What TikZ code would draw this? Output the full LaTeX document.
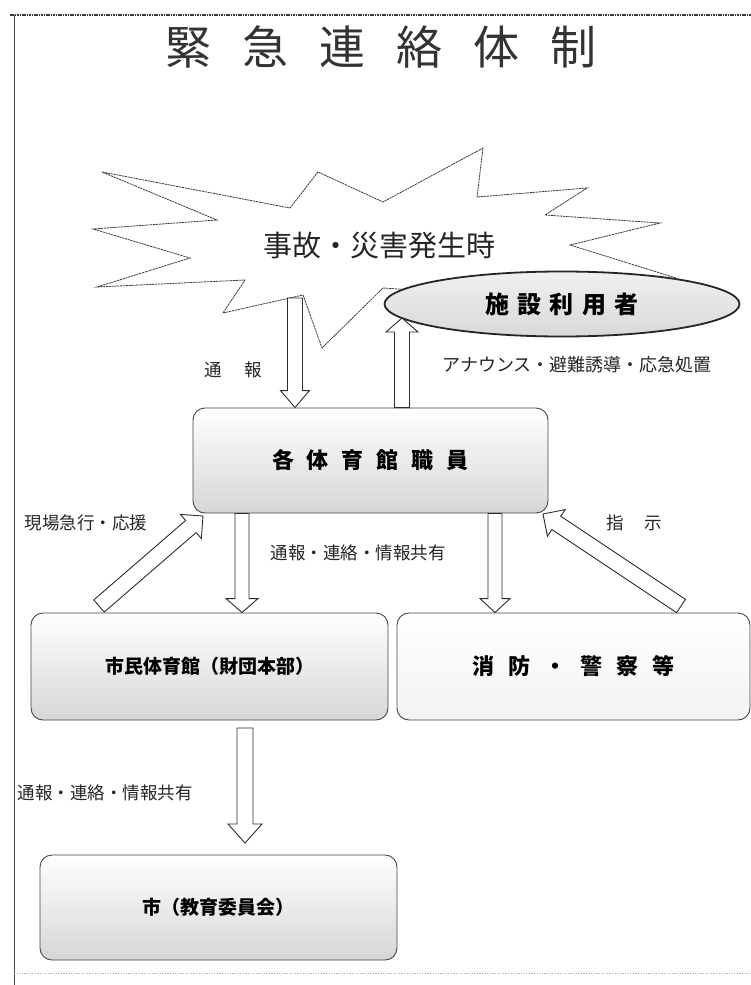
\documentclass[tikz,border=0pt]{standalone}
\usepackage{fontspec}
\newfontfamily\jp{Noto Sans CJK JP}
\usetikzlibrary{shapes.geometric,calc}

\tikzset{
  box/.style={draw=gray!55!black, line width=0.9pt, rounded corners=12pt,
    top color=white, bottom color=gray!32, inner sep=0pt,
    font=\jp\bfseries\fontsize{20}{24}\selectfont},
  lightbox/.style={box, bottom color=gray!10},
  blockarrow/.style={draw=gray!35!black, line width=0.9pt, fill=white, line join=miter},
  lbl/.style={inner sep=0pt, text=black!85, font=\jp\fontsize{17.5}{20}\selectfont},
  burst/.style={draw=gray!45!black, line width=0.8pt, fill=white,
    dash pattern=on 2.2pt off 0.7pt, line join=miter},
}

% block arrow: #1 from, #2 to, #3 shaft half width, #4 head half width, #5 head length
\newcommand\barrow[5]{%
  \pgfpointdiff{\pgfpointanchor{#1}{center}}{\pgfpointanchor{#2}{center}}%
  \pgfgetlastxy{\bdx}{\bdy}%
  \pgfmathsetmacro\bang{atan2(\bdy,\bdx)}%
  \pgfmathsetmacro\blen{veclen(\bdx,\bdy)}%
  \pgfmathsetmacro\bneck{\blen-#5}%
  \begin{scope}[shift={(#1)}, rotate=\bang]
    \draw[blockarrow] (0pt,-#3pt) -- (\bneck pt,-#3pt) -- (\bneck pt,-#4pt)
      -- (\blen pt,0pt) -- (\bneck pt,#4pt) -- (\bneck pt,#3pt) -- (0pt,#3pt) -- cycle;
  \end{scope}}

\begin{document}
\begin{tikzpicture}[x=1pt, y=-1pt]
\useasboundingbox (0,0) rectangle (751,985);
\fill[white] (0,0) rectangle (751,985);

% frame
\draw[gray!45!black, line width=1.3pt, dash pattern=on 1.6pt off 0.8pt] (10,15) -- (751,15);
\draw[gray!55!black, line width=0.9pt] (14,15) -- (14,985);
\draw[gray!60, line width=0.8pt, dash pattern=on 1.2pt off 1.4pt] (14,973) -- (751,973);

% title
\node[inner sep=0pt, text=black!80, font=\jp\fontsize{46}{50}\selectfont] (title) at (381,47)
  {緊\hspace{31pt}急\hspace{31pt}連\hspace{31pt}絡\hspace{31pt}体\hspace{31pt}制};

% starburst
\draw[burst] (102,172) -- (290,208) -- (318,172) -- (383,202) -- (483,148) -- (477,197)
  -- (587,188) -- (545,215) -- (660,223) -- (570,245) -- (676,278) -- (560,300)
  -- (383,288) -- (322,348) -- (303,295) -- (223,313) -- (245,280) -- (97,287)
  -- (190,258) -- (93,229) -- (217,220) -- cycle;
\node[inner sep=0pt, text=black!85, font=\jp\fontsize{29}{32}\selectfont] (incident) at (379,246)
  {事故・災害発生時};

% users ellipse
\node[ellipse, draw=black!85, line width=1.8pt, top color=gray!12, bottom color=gray!30,
  minimum width=355pt, minimum height=65pt, inner sep=0pt,
  font=\jp\bfseries\fontsize{24}{28}\selectfont] (users) at (562,304)
  {施\hspace{8.5pt}設\hspace{8.5pt}利\hspace{8.5pt}用\hspace{8.5pt}者};

% boxes
\node[box, minimum width=355pt, minimum height=105pt, font=\jp\bfseries\fontsize{22}{26}\selectfont]
  (staff) at (370.5,460.5)
  {各\hspace{13pt}体\hspace{13pt}育\hspace{13pt}館\hspace{13pt}職\hspace{13pt}員};
\node[box, minimum width=357pt, minimum height=107pt, font=\jp\bfseries\fontsize{19}{23}\selectfont]
  (civic) at (209.5,666.5) {市民体育館（財団本部）};
\node[lightbox, minimum width=353pt, minimum height=107pt, font=\jp\bfseries\fontsize{22}{26}\selectfont]
  (fire) at (573.5,666.5)
  {消\hspace{14pt}防\hspace{14pt}・\hspace{14pt}警\hspace{14pt}察\hspace{14pt}等};
\node[box, minimum width=357pt, minimum height=105pt, font=\jp\bfseries\fontsize{19}{23}\selectfont]
  (city) at (218.5,907.5) {市（教育委員会）};

% labels
\node[lbl] (l1) at (233,370) {通\hspace{22pt}報};
\node[lbl, font=\jp\fontsize{18}{20}\selectfont] (l2) at (577,365) {アナウンス・避難誘導・応急処置};
\node[lbl] (l3) at (86,523) {現場急行・応援};
\node[lbl] (l4) at (634,523) {指\hspace{21pt}示};
\node[lbl] (l5) at (358,553) {通報・連絡・情報共有};
\node[lbl] (l6) at (105,793) {通報・連絡・情報共有};

% arrow end points
\coordinate (a1) at (295,298);
\coordinate (a2) at (295,0 |- staff.north);
\coordinate (b1) at (402,0 |- staff.north);
\coordinate (b2) at (402,318);
\coordinate (c1) at (242,0 |- staff.south);
\coordinate (c2) at (242,0 |- civic.north);
\coordinate (d1) at (495,0 |- staff.south);
\coordinate (d2) at (495,0 |- fire.north);
\coordinate (e1) at (99,606);
\coordinate (e2) at (203,516);
\coordinate (f1) at (681,606);
\coordinate (f2) at (543,514);
\coordinate (g1) at (245,728);
\coordinate (g2) at (245,843);

\barrow{a1}{a2}{7.5}{14.5}{17}
\barrow{b1}{b2}{7.5}{16}{14}
\barrow{c1}{c2}{7}{16}{14}
\barrow{d1}{d2}{7}{15}{14}
\barrow{e1}{e2}{8}{16}{16}
\barrow{f1}{f2}{8}{16}{16}
\barrow{g1}{g2}{8}{17}{19}
\end{tikzpicture}
\end{document}
